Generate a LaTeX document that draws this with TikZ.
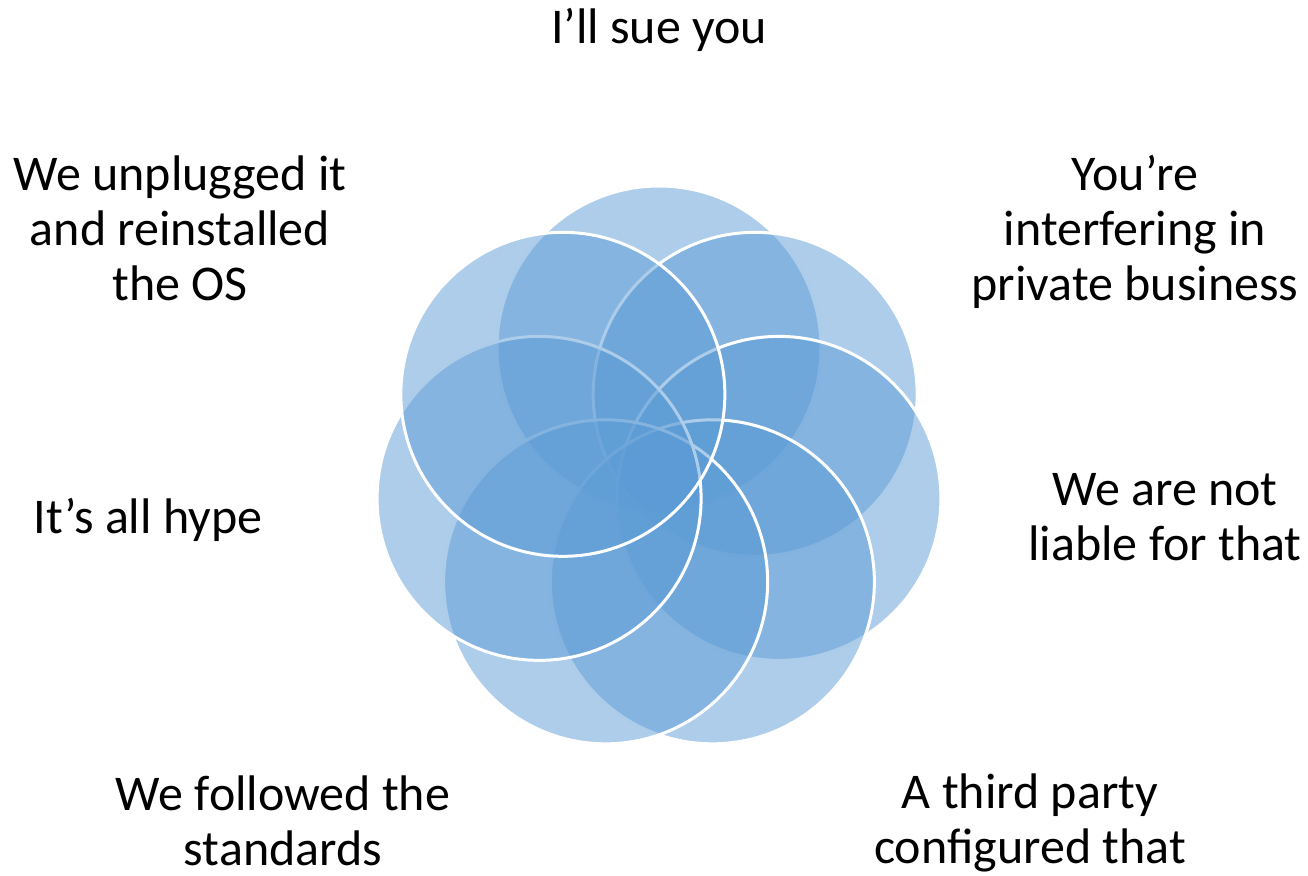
\documentclass[tikz,border=0pt]{standalone}
\usepackage{fontspec}
\setmainfont{Carlito}
\usetikzlibrary{calc}
\definecolor{accentblue}{HTML}{5B9BD5}
\begin{document}
\begin{tikzpicture}[x=1pt,y=-1pt,
  petal/.style={fill=accentblue,fill opacity=0.5,draw=white,line width=3pt},
  lbl/.style={anchor=base,align=center,inner sep=0pt,font=\fontsize{50pt}{55pt}\selectfont}]
\useasboundingbox (0,0) rectangle (1308,875);
\coordinate (ctr) at (659,471);
\foreach \i/\a in {1/90,2/38.571,3/-12.857,4/-64.286,5/-115.714,6/-167.143,7/141.429}{
  \path[petal] ($(ctr)+(\a:123pt)$) circle[radius=162pt];
}
\node[lbl] (t1) at (659,44) {I’ll sue you};
\node[lbl] (t2) at (1135,300) {You’re\\interfering in\\private business};
\node[lbl] (t3) at (1165,560) {We are not\\liable for that};
\node[lbl] (t4) at (1030,863) {A third party\\configured that};
\node[lbl] (t5) at (283,865) {We followed the\\standards};
\node[lbl] (t6) at (148,533) {It’s all hype};
\node[lbl] (t7) at (180,300) {We unplugged it\\and reinstalled\\the OS};
\end{tikzpicture}
\end{document}
